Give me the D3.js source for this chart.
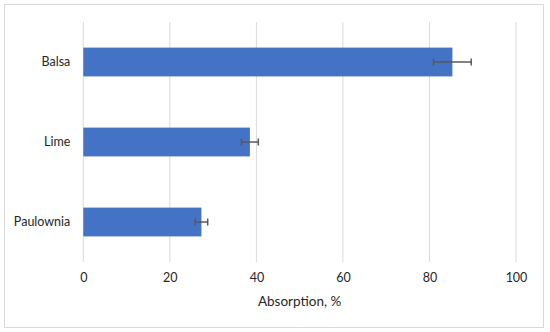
<!DOCTYPE html>
<html>
<head>
    <script src="https://cdn.jsdelivr.net/npm/d3@7/dist/d3.min.js"></script>
    <style>
        body { margin: 0; background: #fff; }
        svg { display: block; font-family: Lato, 'Open Sans', sans-serif; }
        .tick text { fill: #262626; }
    </style>
</head>
<body>
    <svg id="chart" width="550" height="332"></svg>
    <script>
        // data
        var woods = ["Balsa", "Lime", "Paulownia"];
        var absorption = [85.3, 38.5, 27.3];
        var errors = [4.35, 1.95, 1.45];
        var xTicks = [0, 20, 40, 60, 80, 100];

        var svg = d3.select("#chart");

        // outer frame
        svg.append("rect")
            .attr("x", 4.5).attr("y", 4.5)
            .attr("width", 539).attr("height", 323)
            .attr("fill", "none")
            .attr("stroke", "#d9d9d9");

        var xScale = d3.scaleLinear().domain([0, 100]).range([83.3, 516]);
        var yScale = d3.scaleBand().domain(woods).range([22, 262])
                        .paddingInner(0.64).paddingOuter(0.32);

        // vertical gridlines
        svg.append("g").selectAll("line")
            .data(xTicks)
            .enter()
            .append("line")
            .attr("x1", d => xScale(d)).attr("x2", d => xScale(d))
            .attr("y1", 22).attr("y2", 262)
            .attr("stroke", "#d9d9d9")
            .attr("stroke-width", 1);

        var xAxis = d3.axisBottom(xScale).tickValues(xTicks).tickSize(0).tickPadding(11);
        var xG = svg.append("g")
            .attr("transform", "translate(0,262)")
            .call(xAxis);
        xG.select(".domain").remove();
        xG.selectAll("text").attr("font-size", 12.5).attr("font-family", "Lato, 'Open Sans', sans-serif");

        var yAxis = d3.axisLeft(yScale).tickSize(0).tickPadding(13);
        var yG = svg.append("g")
            .attr("transform", "translate(83.3,0)")
            .call(yAxis);
        yG.select(".domain").remove();
        yG.selectAll("text").attr("font-size", 12.5).attr("font-family", "Lato, 'Open Sans', sans-serif");

        var rows = woods.map((w, i) => ({name: w, value: absorption[i], err: errors[i]}));

        // bars
        svg.append("g").selectAll("rect")
            .data(rows)
            .enter()
            .append("rect")
            .attr("x", xScale(0))
            .attr("y", d => yScale(d.name))
            .attr("width", d => xScale(d.value) - xScale(0))
            .attr("height", yScale.bandwidth())
            .attr("fill", "#4472c4");

        // error bars
        var eb = svg.append("g")
            .attr("stroke", "#595959")
            .attr("stroke-width", 1.5);
        rows.forEach(function(d) {
            var cy = yScale(d.name) + yScale.bandwidth() / 2;
            var lo = xScale(d.value - d.err), hi = xScale(d.value + d.err);
            eb.append("line").attr("x1", lo).attr("x2", hi).attr("y1", cy).attr("y2", cy);
            eb.append("line").attr("x1", lo).attr("x2", lo).attr("y1", cy - 3.5).attr("y2", cy + 3.5);
            eb.append("line").attr("x1", hi).attr("x2", hi).attr("y1", cy - 3.5).attr("y2", cy + 3.5);
        });

        // axis title
        svg.append("text")
            .attr("x", (xScale(0) + xScale(100)) / 2)
            .attr("y", 306)
            .attr("text-anchor", "middle")
            .attr("font-size", 13.5)
            .attr("fill", "#262626")
            .text("Absorption, %");
    </script>
</body>
</html>
